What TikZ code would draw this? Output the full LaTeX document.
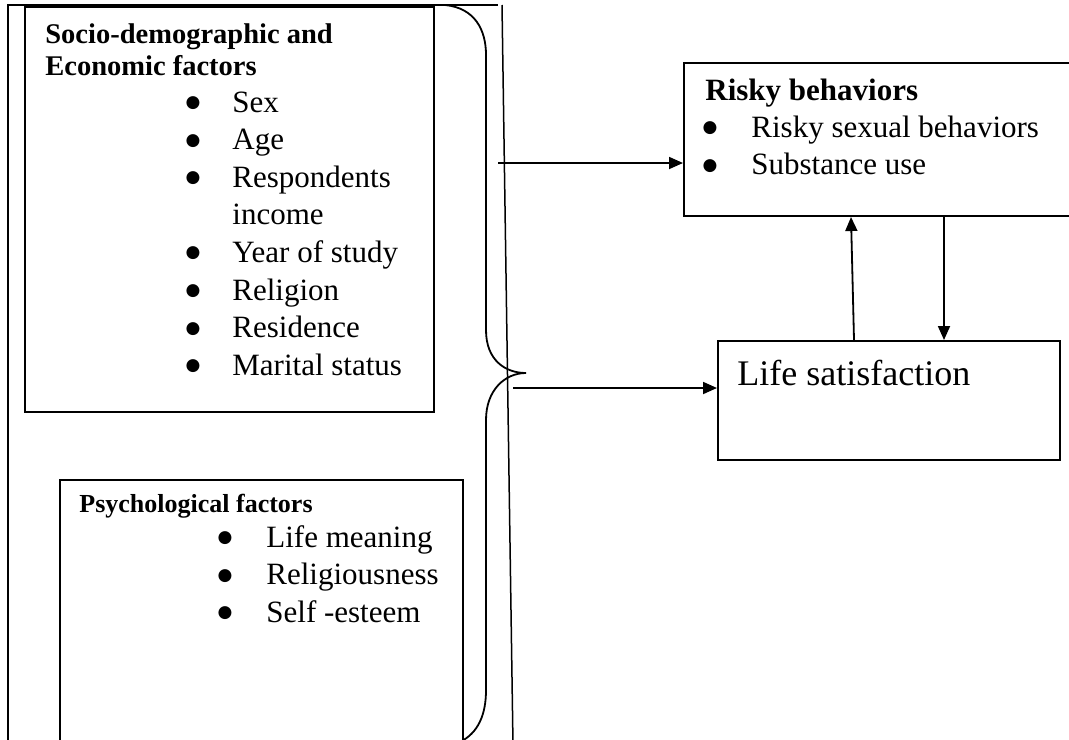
\documentclass[tikz,border=0pt]{standalone}
\usepackage{fontspec}
\setmainfont{Liberation Serif}
\newfontfamily\bulfont{DejaVu Sans}
\usetikzlibrary{arrows.meta,calc}

\begin{document}
\begin{tikzpicture}[x=0.5pt, y=-0.5pt,
    box/.style={draw, line width=1pt, anchor=north west, inner sep=0pt},
    itemtext/.style={anchor=base west, inner sep=0pt, font=\fontsize{15.5}{18}\selectfont},
    bul/.style={inner sep=0pt, font=\bulfont\fontsize{8.5}{9}\selectfont},
    head/.style={anchor=base west, inner sep=0pt, font=\bfseries\fontsize{#1}{18}\selectfont},
    arr/.style={line width=0.9pt, -{Triangle[length=7pt, width=6pt]}}]
    \useasboundingbox (0,0) rectangle (1069,739);
    % boxes
    \node[box, minimum width=204.5pt, minimum height=202.5pt] (socio) at (24,6) {};
    \node[box, minimum width=201.5pt, minimum height=133pt] (psych) at (59,479) {};
    \node[box, minimum width=196pt, minimum height=76.5pt] (risky) at (683,62) {};
    \node[box, minimum width=171pt, minimum height=59.5pt] (life) at (717,340) {};
    % outer frame and brace
    \draw[line width=0.75pt] (8,745) -- (8,5) -- (498,5);
    \draw[line width=0.75pt] (502,5) -- (513,745);
    \draw[line width=0.9pt] (445,5) .. controls (475,8) and (486,30) .. (486,55) -- (486,330)
        .. controls (486,360) and (505,373) .. (526,373)
        .. controls (505,373) and (486,390) .. (486,420) -- (486,690)
        .. controls (486,715) and (478,733) .. (460,742);
    % socio-demographic factors
    \node[head=14.25] (sochead1) at (45,43) {Socio-demographic and};
    \node[head=14.25] (sochead2) at (45,75) {Economic factors};
    \foreach \b/\txt [count=\i] in {1/Sex, 1/Age, 1/Respondents, 0/income, 1/Year of study, 1/Religion, 1/Residence, 1/Marital status} {
        \node[itemtext] (soc\i) at (232,{112+37.6*(\i-1)}) {\txt};
        \ifnum\b=1 \node[bul] (socb\i) at (193,{103+37.6*(\i-1)}) {●}; \fi
    }
    % psychological factors
    \node[head=13] (psyhead) at (79,512) {Psychological factors};
    \foreach \txt [count=\i] in {Life meaning, Religiousness, Self -esteem} {
        \node[itemtext] (psy\i) at (266,{547+37.6*(\i-1)}) {\txt};
        \node[bul] (psyb\i) at (225,{538+37.6*(\i-1)}) {●};
    }
    % risky behaviors
    \node[head=15.5] (riskhead) at (705,100) {Risky behaviors};
    \foreach \txt [count=\i] in {Risky sexual behaviors, Substance use} {
        \node[itemtext] (risk\i) at (751,{137+37.6*(\i-1)}) {\txt};
        \node[bul] (riskb\i) at (710,{128+37.6*(\i-1)}) {●};
    }
    % life satisfaction
    \node[anchor=base west, inner sep=0pt, font=\fontsize{18}{20}\selectfont] (lifetext) at (737,385) {Life satisfaction};
    % arrows
    \coordinate (in1) at (498,163);
    \coordinate (in2) at (513,388);
    \draw[arr] (in1) -- (in1 -| risky.west);
    \draw[arr] (in2) -- (in2 -| life.west);
    \draw[arr] ($(life.north west)+(137,0)$) -- ($(risky.south west)+(168,0)$);
    \draw[arr] ($(risky.south west)+(261,0)$) -- ($(life.north west)+(227,0)$);
\end{tikzpicture}
\end{document}
